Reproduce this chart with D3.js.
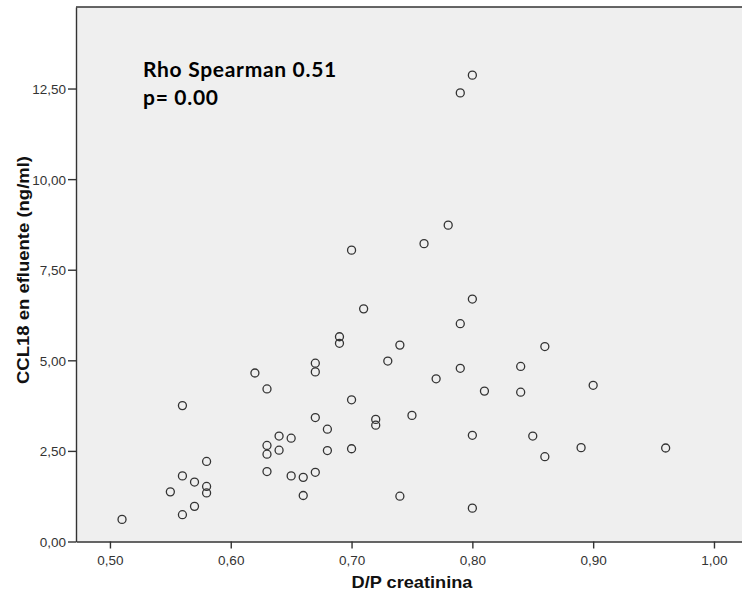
<!DOCTYPE html>
<html>
<head>
<meta charset="utf-8">
<script src="https://cdn.jsdelivr.net/npm/d3@7"></script>
<style>
  html, body { margin: 0; padding: 0; background: #ffffff; }
  svg { display: block; }
</style>
</head>
<body>
<svg id="chart" width="742" height="597"></svg>
<script>
// D/P creatinina values
const dpCreatinina = [
  0.79, 0.80, 0.78, 0.76, 0.70, 0.80, 0.71, 0.79, 0.69, 0.69,
  0.86, 0.74, 0.73, 0.67, 0.67, 0.62, 0.63, 0.84, 0.79, 0.77,
  0.81, 0.84, 0.90, 0.70, 0.56, 0.67, 0.72, 0.72, 0.75, 0.68,
  0.64, 0.65, 0.80, 0.85, 0.63, 0.63, 0.64, 0.68, 0.70, 0.89,
  0.96, 0.86, 0.58, 0.63, 0.67, 0.65, 0.66, 0.56, 0.57, 0.58,
  0.58, 0.55, 0.66, 0.57, 0.56, 0.51, 0.74, 0.80
];
// CCL18 en efluente (ng/ml)
const ccl18 = [
  12.38, 12.87, 8.73, 8.22, 8.04, 6.69, 6.42, 6.01, 5.65, 5.47,
  5.38, 5.42, 4.98, 4.92, 4.68, 4.65, 4.21, 4.83, 4.78, 4.49,
  4.15, 4.12, 4.31, 3.91, 3.75, 3.42, 3.37, 3.21, 3.48, 3.10,
  2.91, 2.85, 2.93, 2.91, 2.65, 2.41, 2.52, 2.51, 2.56, 2.59,
  2.58, 2.34, 2.21, 1.93, 1.91, 1.81, 1.77, 1.81, 1.64, 1.52,
  1.34, 1.37, 1.27, 0.97, 0.74, 0.61, 1.25, 0.92
];
const xTicks = [0.50, 0.60, 0.70, 0.80, 0.90, 1.00];
const yTicks = [0.00, 2.50, 5.00, 7.50, 10.00, 12.50];
const xTitle = "D/P creatinina";
const yTitle = "CCL18 en efluente (ng/ml)";
const annotation = ["Rho Spearman 0.51", "p= 0.00"];

const svg = d3.select("#chart");
const mLeft = 76, mTop = 7, mRight = 742, mBottom = 541.5;

const x = d3.scaleLinear().domain([0.4719, 1.0232]).range([mLeft, mRight]);
const y = d3.scaleLinear().domain([0, 14.75]).range([mBottom, mTop]);

const fmt = v => d3.format(".2f")(v).replace(".", ",");

// plot background
svg.append("rect")
  .attr("x", mLeft).attr("y", mTop)
  .attr("width", mRight - mLeft).attr("height", mBottom - mTop)
  .attr("fill", "#efefef");

// top border
svg.append("line")
  .attr("x1", mLeft).attr("x2", mRight)
  .attr("y1", mTop).attr("y2", mTop)
  .attr("stroke", "#333").attr("stroke-width", 1.4);

// x axis
const xAxis = svg.append("g")
  .attr("transform", `translate(0,${mBottom})`)
  .call(d3.axisBottom(x).tickValues(xTicks).tickFormat(fmt).tickSize(7).tickSizeOuter(0));
// y axis
const yAxis = svg.append("g")
  .attr("transform", `translate(${mLeft},0)`)
  .call(d3.axisLeft(y).tickValues(yTicks).tickFormat(fmt).tickSize(8).tickSizeOuter(0));

[xAxis, yAxis].forEach(g => {
  g.select(".domain").attr("stroke", "#333").attr("stroke-width", 1.4);
  g.selectAll(".tick line").attr("stroke", "#333").attr("stroke-width", 1.4);
  g.selectAll(".tick text")
    .attr("fill", "#333")
    .style("font-family", "'Liberation Sans', Arial, sans-serif")
    .style("font-size", "13.5px");
});
xAxis.selectAll(".tick text").attr("dy", null).attr("y", 23);
yAxis.selectAll(".tick text").attr("x", -10).attr("dy", "0.36em");

// points
svg.append("g")
  .selectAll("circle")
  .data(dpCreatinina.map((d, i) => [d, ccl18[i]]))
  .join("circle")
  .attr("cx", d => x(d[0]))
  .attr("cy", d => y(d[1]))
  .attr("r", 4)
  .attr("fill", "none")
  .attr("stroke", "#333")
  .attr("stroke-width", 1.3);

// axis titles
svg.append("text")
  .attr("x", 412).attr("y", 588)
  .attr("text-anchor", "middle")
  .attr("fill", "#111")
  .attr("textLength", 121)
  .attr("lengthAdjust", "spacingAndGlyphs")
  .style("font-family", "'Liberation Sans', Arial, sans-serif")
  .style("font-weight", "bold")
  .style("font-size", "16.5px")
  .text(xTitle);

svg.append("text")
  .attr("transform", `translate(29,270) rotate(-90)`)
  .attr("text-anchor", "middle")
  .attr("fill", "#111")
  .attr("textLength", 228)
  .attr("lengthAdjust", "spacingAndGlyphs")
  .style("font-family", "'Liberation Sans', Arial, sans-serif")
  .style("font-weight", "bold")
  .style("font-size", "16.5px")
  .text(yTitle);

// annotation
const ann = svg.append("g");
annotation.forEach((t, i) => {
  ann.append("text")
    .attr("x", 143).attr("y", 77 + i * 28)
    .attr("fill", "#000")
    .style("font-family", "Lato, 'Open Sans', sans-serif")
    .style("font-weight", "bold")
    .style("font-size", "21px")
    .style("letter-spacing", "0.7px")
    .text(t);
});
</script>
</body>
</html>
